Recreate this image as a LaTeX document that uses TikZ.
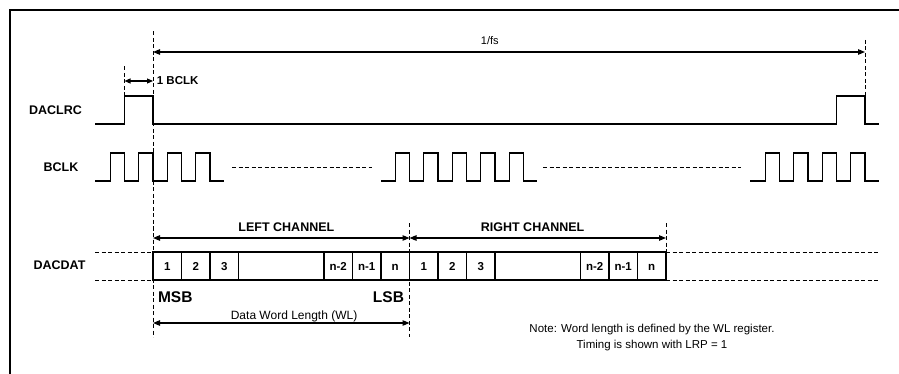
\documentclass[tikz,border=0pt]{standalone}
\usepackage{fontspec}
\setmainfont{Liberation Sans}
\usetikzlibrary{arrows.meta,positioning}
\tikzset{font={\fontsize{12pt}{14}\selectfont}}
\tikzset{
	frame/.style={line width=1.3pt},
	wave/.style={line width=1.3pt},
	guide/.style={line width=0.8pt, dash pattern=on 4pt off 2.5pt},
	dimline/.style={<->, line width=1.1pt},
	sig/.style={font={\fontsize{12.5pt}{15}\selectfont\bfseries}},
	big/.style={font={\fontsize{15.5pt}{18}\selectfont\bfseries}},
	cell/.style={draw, line width=1.3pt, minimum width=28.5pt, minimum height=28pt,
		inner sep=0pt, outer sep=0pt, text height=8.5pt, text depth=0pt,
		font={\fontsize{11.5pt}{13}\selectfont\bfseries}}
}

\begin{document}
\begin{tikzpicture}[x=1pt, y=-1pt, >={Triangle[length=7pt,width=5.5pt]}]
                \useasboundingbox (0,0) rectangle (899,374);
                \draw[frame] (10,374) -- (10,10) -- (899,10);
                % signal names
                \node (lrc) [sig] at (55.5,110) {DACLRC};
                \node (bclk) [sig] at (61,167) {BCLK};
                \node (dat) [sig] at (59.5,265) {DACDAT};
                % waveforms
                \draw[wave] (95,124) -- (124.5,124) -- (124.5,96) -- (153,96) -- (153,124)
                    -- (836.5,124) -- (836.5,96) -- (865,96) -- (865,124) -- (879,124);
                \draw[wave] (95,181) \foreach \r in {110.25,138.75,167.25,195.75}
                    {-- (\r,181) -- (\r,153) -- ++(14.25,0) -- ++(0,28)} -- (224,181);
                \draw[wave] (381,181) \foreach \r in {395.25,423.75,452.25,480.75,509.25}
                    {-- (\r,181) -- (\r,153) -- ++(14.25,0) -- ++(0,28)} -- (537,181);
                \draw[wave] (750,181) \foreach \r in {765.25,793.75,822.25,850.75}
                    {-- (\r,181) -- (\r,153) -- ++(14.25,0) -- ++(0,28)} -- (879,181);
                \draw[guide] (232,167) -- (372,167);
                \draw[guide] (543,167) -- (741,167);
                % data word
                \node (l1) [cell] at (167.25,266) {1};
                \node (l2) [cell, right=0pt of l1] {2};
                \node (l3) [cell, right=0pt of l2] {3};
                \node (lgap) [cell, minimum width=85.5pt, right=0pt of l3] {};
                \node (ln2) [cell, right=0pt of lgap] {n-2};
                \node (ln1) [cell, right=0pt of ln2] {n-1};
                \node (ln) [cell, right=0pt of ln1] {n};
                \node (r1) [cell, right=0pt of ln] {1};
                \node (r2) [cell, right=0pt of r1] {2};
                \node (r3) [cell, right=0pt of r2] {3};
                \node (rgap) [cell, minimum width=85.5pt, right=0pt of r3] {};
                \node (rn2) [cell, right=0pt of rgap] {n-2};
                \node (rn1) [cell, right=0pt of rn2] {n-1};
                \node (rn) [cell, right=0pt of rn1] {n};
                \draw[guide] (95,252) -- (l1.north west);
                \draw[guide] (95,280) -- (l1.south west);
                \draw[guide] (rn.north east) -- (879,252);
                \draw[guide] (rn.south east) -- (879,280);
                \node (msb) [big, below right=8pt and 1.5pt of l1.south west, anchor=north west] {MSB};
                \node (lsb) [big, below left=8pt and 2pt of ln.south east, anchor=north east] {LSB};
                % timing marks
                \draw[guide] (153,31.5) -- (153,337);
                \draw[guide] (409.5,223) -- (409.5,337);
                \draw[guide] (666,223) -- (rn.north east);
                \draw[guide] (124.5,66.5) -- (124.5,96);
                \draw[guide] (865,40) -- (865,96);
                \coordinate (fsL) at (153,52);
                \coordinate (fsR) at (865,52);
                \coordinate (bcL) at (124.5,81);
                \coordinate (bcR) at (153,81);
                \coordinate (chL) at (153,238);
                \coordinate (chM) at (409.5,238);
                \coordinate (chR) at (666,238);
                \coordinate (wlL) at (153,323);
                \coordinate (wlR) at (409.5,323);
                \draw[dimline] (fsL) -- (fsR) node[pos=.473, anchor=base, yshift=7pt, font={\fontsize{11pt}{13}\selectfont}] {1/fs};
                \draw[dimline, >={Triangle[length=6pt,width=5pt]}] (bcL) -- (bcR) node[right, sig, font={\fontsize{11.5pt}{13}\selectfont\bfseries}] {1 BCLK};
                \draw[dimline] (chL) -- (chM) node[pos=.52, anchor=base, yshift=6.5pt, sig] {LEFT CHANNEL};
                \draw[dimline] (chM) -- (chR) node[pos=.48, anchor=base, yshift=6.5pt, sig] {RIGHT CHANNEL};
                \draw[dimline] (wlL) -- (wlR) node[pos=.55, anchor=base, yshift=3.5pt] {Data Word Length (WL)};
                \node (note) [align=center, font={\fontsize{11.5pt}{16}\selectfont}] at (652,338)
                    {Note: Word length is defined by the WL register.\\Timing is shown with LRP = 1};
            \end{tikzpicture}
\end{document}
